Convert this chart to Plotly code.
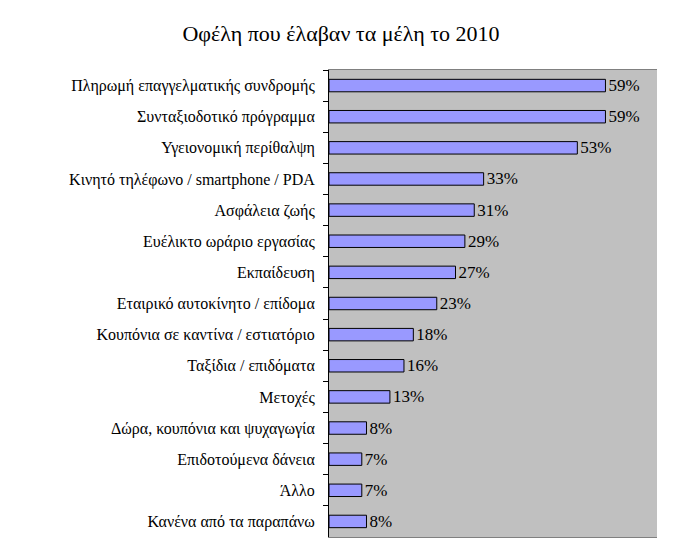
import plotly.graph_objects as go

categories = [
    "Πληρωμή επαγγελματικής συνδρομής",
    "Συνταξιοδοτικό πρόγραμμα",
    "Υγειονομική περίθαλψη",
    "Κινητό τηλέφωνο / smartphone / PDA",
    "Ασφάλεια ζωής",
    "Ευέλικτο ωράριο εργασίας",
    "Εκπαίδευση",
    "Εταιρικό αυτοκίνητο / επίδομα",
    "Κουπόνια σε καντίνα / εστιατόριο",
    "Ταξίδια / επιδόματα",
    "Μετοχές",
    "Δώρα, κουπόνια και ψυχαγωγία",
    "Επιδοτούμενα δάνεια",
    "Άλλο",
    "Κανένα από τα παραπάνω",
]
values = [59, 59, 53, 33, 31, 29, 27, 23, 18, 16, 13, 8, 7, 7, 8]
value_labels = [f"{v}%" for v in values]
title_text = "Οφέλη που έλαβαν τα μέλη το 2010"

serif = "Liberation Serif, Times New Roman, serif"

fig = go.Figure(
    go.Bar(
        y=categories,
        x=values,
        orientation="h",
        marker=dict(color="#9999FF", line=dict(color="black", width=1)),
        text=value_labels,
        textposition="outside",
        constraintext="none",
        textfont=dict(family=serif, size=17, color="black"),
        cliponaxis=False,
    )
)

fig.update_layout(
    width=666,
    height=551,
    margin=dict(l=321, r=17, t=62, b=22, autoexpand=False),
    paper_bgcolor="white",
    plot_bgcolor="#C0C0C0",
    bargap=0.6,
    showlegend=False,
    title=dict(
        text=title_text,
        x=0.5,
        xanchor="center",
        y=1 - 25 / 551,
        yanchor="middle",
        font=dict(family=serif, size=22, color="black"),
    ),
    font=dict(family=serif, color="black"),
)

fig.update_xaxes(
    range=[0, 70],
    showticklabels=False,
    showgrid=False,
    zeroline=False,
    ticks="",
    showline=True,
    linecolor="#808080",
    linewidth=1,
    mirror=True,
)
fig.update_yaxes(
    autorange="reversed",
    type="category",
    tickson="boundaries",
    ticks="outside",
    ticklen=5,
    tickcolor="black",
    showline=True,
    linecolor="black",
    linewidth=1,
    showgrid=False,
    automargin=False,
    ticklabelstandoff=10,
    tickfont=dict(family=serif, size=16, color="black"),
)

fig.write_html("out.html")
